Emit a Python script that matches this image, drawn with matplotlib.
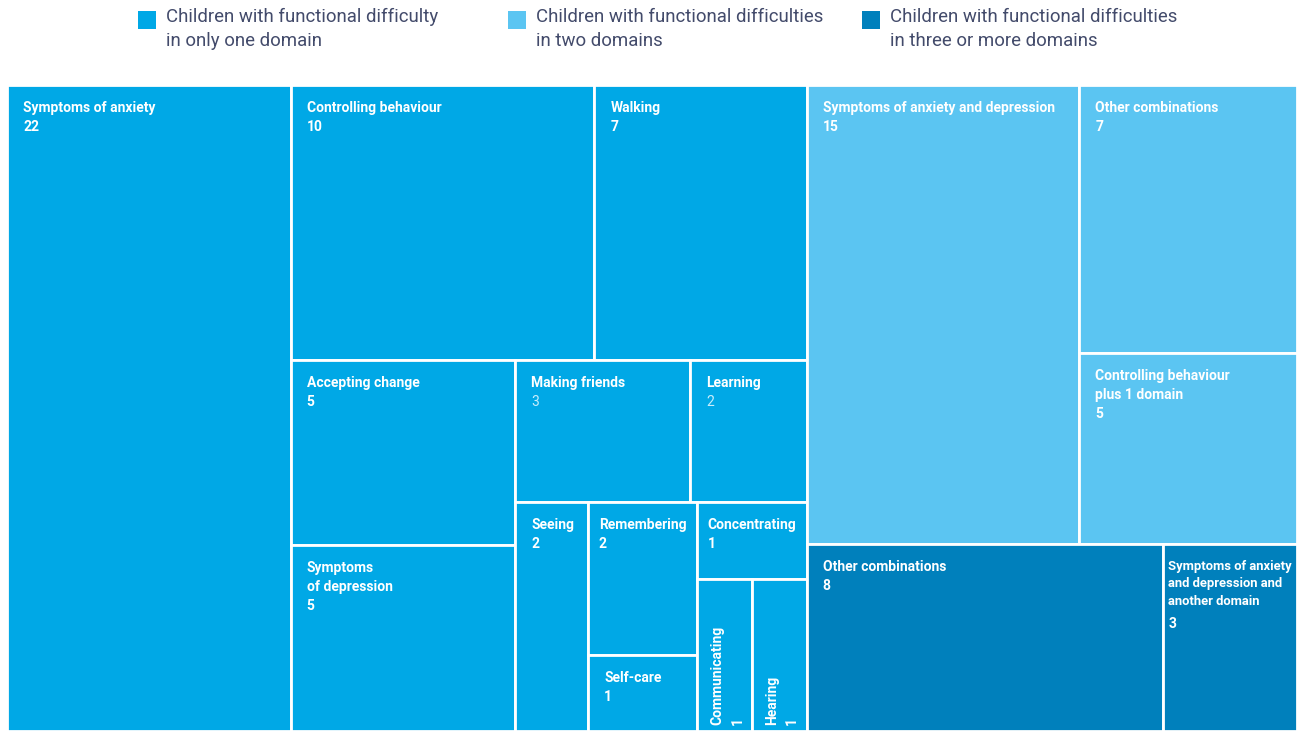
#%%
import matplotlib
matplotlib.use('Agg')
import matplotlib.pyplot as plt
from matplotlib.patches import Rectangle

#%%
# data
labels = [
    'Symptoms of anxiety', 'Controlling behaviour', 'Walking', 'Accepting change',
    'Symptoms\nof depression', 'Making friends', 'Learning', 'Seeing', 'Remembering',
    'Self-care', 'Concentrating', 'Communicating', 'Hearing',
    'Symptoms of anxiety and depression', 'Other combinations',
    'Controlling behaviour\nplus 1 domain',
    'Other combinations', 'Symptoms of anxiety\nand depression and\nanother domain',
]
values = [22, 10, 7, 5, 5, 3, 2, 2, 2, 1, 1, 1, 1, 15, 7, 5, 8, 3]
groups = [0, 0, 0, 0, 0, 0, 0, 0, 0, 0, 0, 0, 0, 1, 1, 1, 2, 2]
group_names = [
    'Children with functional difficulty\nin only one domain',
    'Children with functional difficulties\nin two domains',
    'Children with functional difficulties\nin three or more domains',
]
group_colors = ['#00A8E6', '#5BC5F2', '#0080BC']

# how the tiles are nested: 'h' = side by side, 'v' = stacked (first on top)
tree = ('h', [
    ('h', [0, ('v', [('h', [1, 2]),
                     ('h', [('v', [3, 4]),
                            ('v', [('h', [5, 6]),
                                   ('h', [7, ('v', [8, 9]),
                                          ('v', [10, ('h', [11, 12])])])])])])]),
    ('v', [('h', [13, ('v', [14, 15])]),
           ('h', [16, 17])]),
])

# values drawn in a lighter, regular style
light_values = [5, 6]
vertical = [11, 12]


#%%
def total(node):
    if isinstance(node, int):
        return values[node]
    return sum(total(k) for k in node[1])


def layout(node, x0, y0, x1, y1, out):
    if isinstance(node, int):
        out[node] = (x0, y0, x1, y1)
        return
    direction, kids = node
    s = sum(total(k) for k in kids)
    if direction == 'h':
        x = x0
        for k in kids:
            w = (x1 - x0) * total(k) / s
            layout(k, x, y0, x + w, y1, out)
            x += w
    else:
        y = y1
        for k in kids:
            h = (y1 - y0) * total(k) / s
            layout(k, x0, y - h, x1, y, out)
            y -= h


rects = {}
layout(tree, 0, 0, 1, 1, rects)

#%%
W, H = 1297, 731
fig = plt.figure(figsize=(W / 100, H / 100), dpi=100)
ax_left, ax_top = 7, 85
ax = fig.add_axes([ax_left / W, 0, (W - ax_left) / W, (H - ax_top) / H])
ax.set_xlim(0, 1)
ax.set_ylim(0, 1)
ax.axis('off')
renderer = fig.canvas.get_renderer()

font = 'Roboto'
fsize = 10
px = 0.72  # points per pixel at 100 dpi
ax_w_px = W - ax_left


def text_width(s, size):
    t = fig.text(0, 0, s, fontsize=size, fontweight='bold', family=font,
                 linespacing=1.45)
    w = t.get_window_extent(renderer).width
    t.remove()
    return w


for i in range(len(labels)):
    x0, y0, x1, y1 = rects[i]
    ax.add_patch(Rectangle((x0, y0), x1 - x0, y1 - y0,
                           facecolor=group_colors[groups[i]],
                           edgecolor='white', linewidth=2))
    tile_w = (x1 - x0) * ax_w_px
    if i in vertical:
        ax.annotate(labels[i], xy=(x0, y0), xytext=(13 * px, 6 * px),
                    textcoords='offset points', rotation=90,
                    ha='left', va='bottom', color='white', fontsize=fsize,
                    fontweight='bold', family=font)
        ax.annotate(str(values[i]), xy=(x0, y0), xytext=(33 * px, 6 * px),
                    textcoords='offset points', rotation=90,
                    ha='left', va='bottom', color='white', fontsize=fsize,
                    fontweight='bold', family=font)
        continue
    # fit the label inside its tile
    size = fsize
    tw = text_width(labels[i], size)
    pad = 16
    if tw + pad + 6 > tile_w:
        pad = max(5, (tile_w - tw) / 2)
    if tw + 10 > tile_w:
        size = fsize * (tile_w - 10) / tw
    nlines = labels[i].count('\n') + 1
    ax.annotate(labels[i], xy=(x0, y1), xytext=(pad * px, -16 * px),
                textcoords='offset points', ha='left', va='top',
                color='white', fontsize=size, fontweight='bold',
                family=font, linespacing=1.45)
    if i in light_values:
        vcol, vw = '#C9EDFB', 'normal'
    else:
        vcol, vw = 'white', 'bold'
    ax.annotate(str(values[i]), xy=(x0, y1),
                xytext=(pad * px, (-16 - 19 * nlines) * px),
                textcoords='offset points', ha='left', va='top',
                color=vcol, fontsize=fsize, fontweight=vw, family=font)

# legend across the top
leg_x = [138, 508, 862]
for g in range(3):
    fig.patches.append(Rectangle((leg_x[g] / W, 1 - 29 / H), 18 / W, 18 / H,
                                 transform=fig.transFigure,
                                 facecolor=group_colors[g], edgecolor='none'))
    fig.text((leg_x[g] + 28) / W, 1 - 8 / H, group_names[g],
             ha='left', va='top', fontsize=13.4, color='#434B6B',
             family=font, linespacing=1.4)

fig.savefig('out.png', dpi=100)
